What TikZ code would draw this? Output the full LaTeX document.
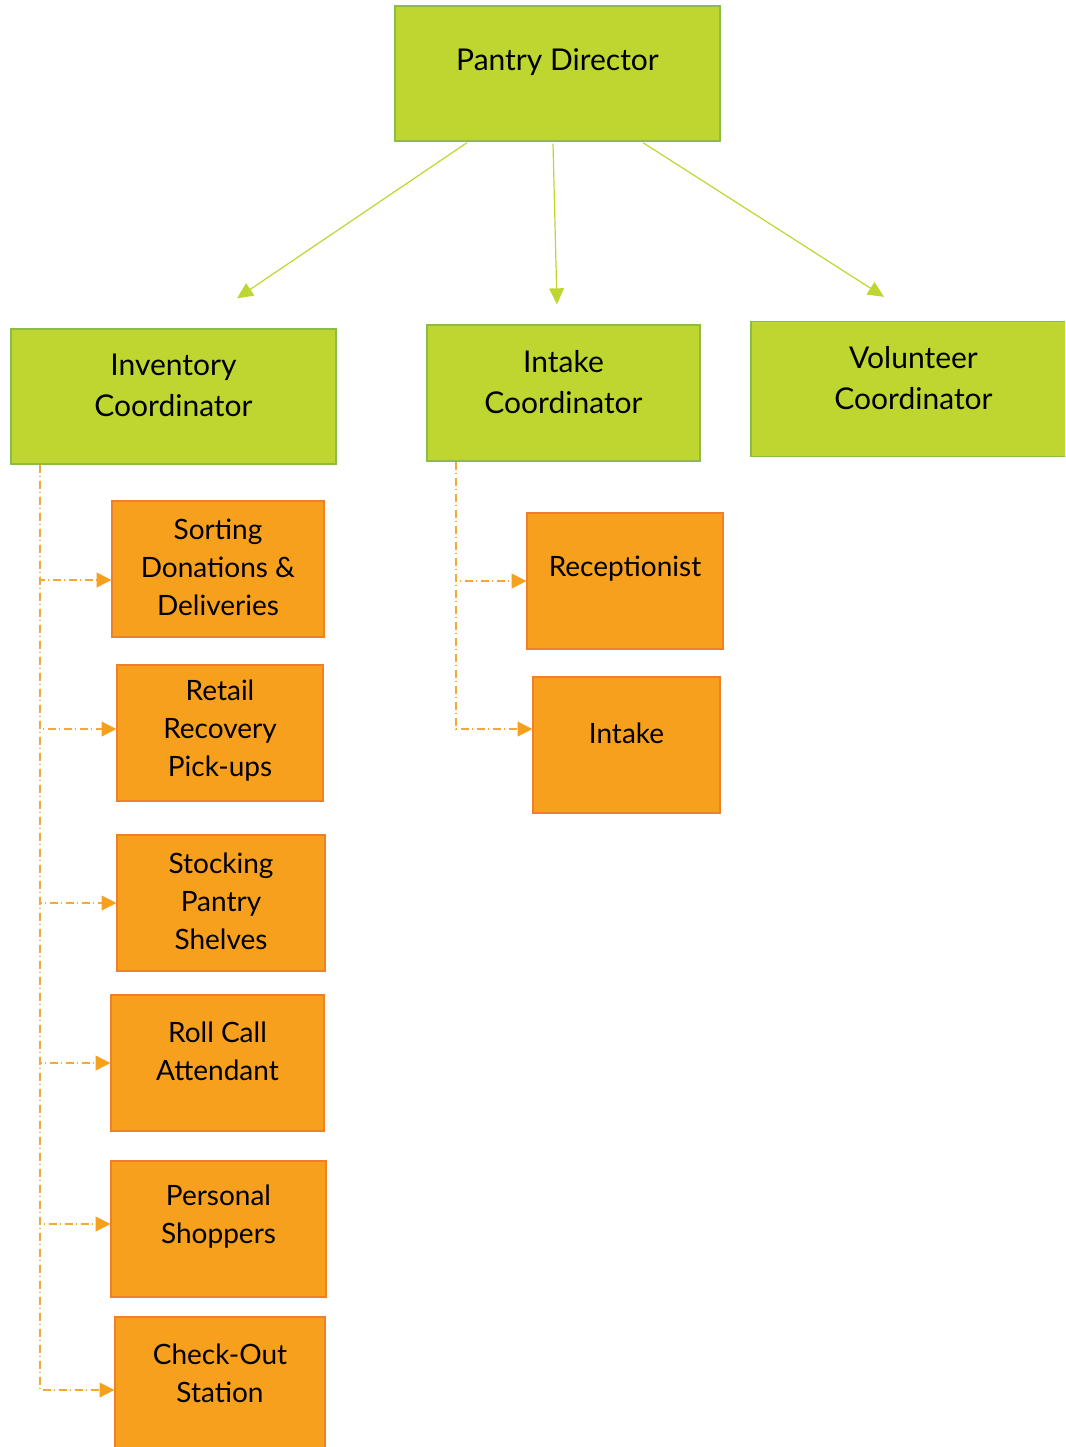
\documentclass[tikz,border=0pt]{standalone}
\usepackage{fontspec}
\setmainfont{Lato}
\usetikzlibrary{arrows.meta}
\definecolor{boxgreen}{RGB}{191,214,48}
\definecolor{edgegreen}{RGB}{140,187,72}
\definecolor{boxorange}{RGB}{247,160,30}
\definecolor{edgeorange}{RGB}{240,128,40}
\definecolor{lineorange}{RGB}{246,168,52}

\begin{document}
\begin{tikzpicture}[
                x=0.75pt, y=-0.75pt, % pixel grid, y down
                gtxt/.style={align=center,text=black,font=\fontsize{22.5}{30.75}\selectfont,yshift=8.5pt},
                otxt/.style={align=center,text=black,font=\fontsize{21}{28.5}\selectfont,yshift=9pt},
                gbox/.style={draw=edgegreen,fill=boxgreen,line width=1pt,minimum width=243.75pt,minimum height=101.25pt,inner sep=0pt},
                obox/.style={draw=edgeorange,fill=boxorange,line width=0.9pt,minimum height=102pt,inner sep=0pt},
                down/.style={draw=boxgreen,line width=0.9pt,-{Triangle[length=12pt,width=11pt]}},
                sub/.style={draw=lineorange,line width=1.1pt,dash pattern=on 6pt off 2.5pt on 1pt off 2.5pt,
                            -{Triangle[length=11pt,width=11pt,color=boxorange]}}]

\useasboundingbox (0,0) rectangle (1065,1447);
\clip (0,0) rectangle (1065,1447);

                    % top
                    \node[gbox,label={[gtxt]center:Pantry Director}] (PD) at (557.5,73.5) {};

                    % coordinators
                    \node[gbox,label={[gtxt]center:{Inventory\\Coordinator}}] (INV) at (173.5,396.5) {};
                    \node[gbox,minimum width=204.75pt,minimum height=102pt,label={[gtxt]center:{Intake\\Coordinator}}] (INT) at (563.5,393) {};
                    \node[gbox,label={[gtxt]center:{Volunteer\\Coordinator}}] (VOL) at (913.5,389) {};

                    \draw[down] ([shift={(-90.5,1)}]PD.south) -- ([shift={(63.5,-30)}]INV.north);
                    \draw[down] ([shift={(-4.5,2)}]PD.south) -- ([shift={(-6.5,-20)}]INT.north);
                    \draw[down] ([shift={(85.5,1)}]PD.south) -- ([shift={(-29.5,-24)}]VOL.north);

                    % inventory tasks
                    \node[obox,minimum width=159pt,label={[otxt,yshift=-8pt]center:{Sorting\\Donations \&\\Deliveries}}] (SORT) at (218,569) {};
                    \node[obox,minimum width=154.5pt,label={[otxt,yshift=-7.5pt]center:{Retail\\Recovery\\Pick-ups}}] (RETAIL) at (220,733) {};
                    \node[obox,minimum width=156pt,label={[otxt,yshift=-7.5pt]center:{Stocking\\Pantry\\Shelves}}] (STOCK) at (221,903) {};
                    \node[obox,minimum width=159.75pt,label={[otxt]center:{Roll Call\\Attendant}}] (ROLL) at (217.5,1063) {};
                    \node[obox,minimum width=161.25pt,label={[otxt]center:{Personal\\Shoppers}}] (SHOP) at (218.5,1229) {};
                    \node[obox,minimum width=157.5pt,label={[otxt]center:{Check-Out\\Station}}] (CHECK) at (220,1385) {};

                    \draw[sub] ([shift={(29.5,0)}]INV.south west) |- ([shift={(0,11)}]SORT.west);
                    \draw[sub] ([shift={(29.5,0)}]INV.south west) |- ([shift={(0,-4)}]RETAIL.west);
                    \draw[sub] ([shift={(29.5,0)}]INV.south west) |- (STOCK.west);
                    \draw[sub] ([shift={(29.5,0)}]INV.south west) |- (ROLL.west);
                    \draw[sub] ([shift={(29.5,0)}]INV.south west) |- ([shift={(0,-5)}]SHOP.west);
                    \draw[sub] ([shift={(29.5,0)}]INV.south west) |- ([shift={(0,5)}]CHECK.west);

                    % intake tasks
                    \node[obox,minimum width=147pt,label={[otxt]center:Receptionist}] (RECEP) at (625,581) {};
                    \node[obox,minimum width=140.25pt,label={[otxt]center:Intake}] (INTK) at (626.5,745) {};

                    \draw[sub] ([shift={(29.5,0)}]INT.south west) |- (RECEP.west);
                    \draw[sub] ([shift={(29.5,0)}]INT.south west) |- ([shift={(0,-16)}]INTK.west);

\end{tikzpicture}
\end{document}
